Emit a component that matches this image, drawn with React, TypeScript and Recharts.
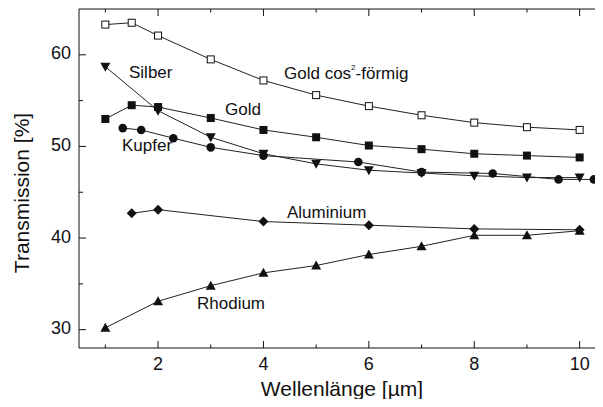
import React from 'react';
import { LineChart, Line, XAxis, YAxis } from 'recharts';

// wavelength [µm] and transmission [%] per coating
const goldCosX = [1, 1.5, 2, 3, 4, 5, 6, 7, 8, 9, 10];
const goldCosT = [63.3, 63.5, 62.1, 59.5, 57.2, 55.6, 54.4, 53.4, 52.6, 52.1, 51.8];

const goldX = [1, 1.5, 2, 3, 4, 5, 6, 7, 8, 9, 10];
const goldT = [53.0, 54.5, 54.3, 53.1, 51.8, 51.0, 50.1, 49.7, 49.2, 49.0, 48.8];

const silberX = [1, 2, 3, 4, 5, 6, 7, 8, 9, 10];
const silberT = [58.7, 53.9, 51.0, 49.2, 48.1, 47.4, 47.1, 46.8, 46.6, 46.6];

const kupferX = [1.33, 1.68, 2.29, 3, 4, 5.8, 7, 8.35, 9.6, 10.27];
const kupferT = [52.0, 51.8, 50.9, 49.9, 49.0, 48.3, 47.2, 47.05, 46.4, 46.4];

const aluX = [1.5, 2, 4, 6, 8, 10];
const aluT = [42.7, 43.1, 41.8, 41.4, 41.0, 40.9];

const rhodiumX = [1, 2, 3, 4, 5, 6, 7, 8, 9, 10];
const rhodiumT = [30.2, 33.1, 34.8, 36.2, 37.0, 38.2, 39.1, 40.3, 40.3, 40.8];

const xTicks = [1, 2, 3, 4, 5, 6, 7, 8, 9, 10];
const yTicks = [30, 35, 40, 45, 50, 55, 60];

const FONT = '"Liberation Sans", Arial, Helvetica, sans-serif';
const INK = '#111';

const toPoints = (xs: number[], ts: number[]) => xs.map((x, i) => ({ x, t: ts[i] }));

type MarkerKind = 'openSquare' | 'square' | 'circle' | 'down' | 'up' | 'diamond';

function marker(kind: MarkerKind, name: string) {
  return (props: any) => {
    const { cx, cy, index } = props;
    const key = `${name}-${index}`;
    if (cx == null || cy == null) return <g key={key} />;
    switch (kind) {
      case 'openSquare':
        return <rect key={key} x={cx - 3.5} y={cy - 3.5} width={7} height={7} fill="#fff" stroke={INK} strokeWidth={1} />;
      case 'square':
        return <rect key={key} x={cx - 4} y={cy - 4} width={8} height={8} fill={INK} />;
      case 'circle':
        return <circle key={key} cx={cx} cy={cy} r={4.3} fill={INK} />;
      case 'down':
        return <polygon key={key} points={`${cx - 5},${cy - 4} ${cx + 5},${cy - 4} ${cx},${cy + 5}`} fill={INK} />;
      case 'up':
        return <polygon key={key} points={`${cx - 5},${cy + 4} ${cx + 5},${cy + 4} ${cx},${cy - 5}`} fill={INK} />;
      default:
        return <polygon key={key} points={`${cx},${cy - 5} ${cx + 5},${cy} ${cx},${cy + 5} ${cx - 5},${cy}`} fill={INK} />;
    }
  };
}

// ticks point into the plot; only even wavelengths get a label
function BottomTick({ x, y, payload }: any) {
  const major = payload.value % 2 === 0;
  return (
    <g>
      <line x1={x} y1={y} x2={x} y2={y - (major ? 7 : 3.5)} stroke={INK} />
      {major && (
        <text x={x} y={y + 22} textAnchor="middle" fontSize={18} fontFamily={FONT} fill={INK}>
          {payload.value}
        </text>
      )}
    </g>
  );
}

function TopTick({ x, y, payload }: any) {
  const major = payload.value % 2 === 0;
  return <line x1={x} y1={y} x2={x} y2={y + (major ? 7 : 3.5)} stroke={INK} />;
}

function LeftTick({ x, y, payload }: any) {
  const major = payload.value % 10 === 0;
  return (
    <g>
      <line x1={x} y1={y} x2={x + (major ? 7 : 4)} y2={y} stroke={INK} />
      {major && (
        <text x={x - 8} y={y + 4.5} textAnchor="end" fontSize={18} fontFamily={FONT} fill={INK}>
          {payload.value}
        </text>
      )}
    </g>
  );
}

function RightTick({ x, y, payload }: any) {
  const major = payload.value % 10 === 0;
  return <line x1={x} y1={y} x2={x - (major ? 7 : 4)} y2={y} stroke={INK} />;
}

const series: Array<{ name: string; data: { x: number; t: number }[]; kind: MarkerKind }> = [
  { name: 'goldCos', data: toPoints(goldCosX, goldCosT), kind: 'openSquare' },
  { name: 'gold', data: toPoints(goldX, goldT), kind: 'square' },
  { name: 'silber', data: toPoints(silberX, silberT), kind: 'down' },
  { name: 'kupfer', data: toPoints(kupferX, kupferT), kind: 'circle' },
  { name: 'alu', data: toPoints(aluX, aluT), kind: 'diamond' },
  { name: 'rhodium', data: toPoints(rhodiumX, rhodiumT), kind: 'up' },
];

const annot = { fontSize: 17, fontFamily: FONT, fill: INK };

export default function App() {
  return (
    <div style={{ margin: -8, width: 603, height: 407, overflow: 'hidden', background: '#fff' }}>
      <LineChart width={607} height={407} margin={{ top: 8, right: 0, bottom: 0, left: 0 }}>
        <XAxis
          type="number"
          dataKey="x"
          domain={[0.5, 10.5]}
          ticks={xTicks}
          interval={0}
          allowDataOverflow
          height={59}
          tickSize={0}
          tickMargin={0}
          tickLine={false}
          axisLine={{ stroke: INK }}
          tick={<BottomTick />}
        />
        <XAxis
          xAxisId="top"
          orientation="top"
          type="number"
          dataKey="x"
          domain={[0.5, 10.5]}
          ticks={xTicks}
          interval={0}
          allowDataOverflow
          height={1}
          tickSize={0}
          tickMargin={0}
          tickLine={false}
          axisLine={{ stroke: INK }}
          tick={<TopTick />}
        />
        <YAxis
          type="number"
          domain={[28, 65]}
          ticks={yTicks}
          interval={0}
          allowDataOverflow
          width={79}
          tickSize={0}
          tickMargin={0}
          tickLine={false}
          axisLine={{ stroke: INK }}
          tick={<LeftTick />}
        />
        <YAxis
          yAxisId="right"
          orientation="right"
          type="number"
          domain={[28, 65]}
          ticks={yTicks}
          interval={0}
          allowDataOverflow
          width={1}
          tickSize={0}
          tickMargin={0}
          tickLine={false}
          axisLine={{ stroke: INK }}
          tick={<RightTick />}
        />
        {series.map((s) => (
          <Line
            key={s.name}
            data={s.data}
            dataKey="t"
            type="linear"
            stroke="#222"
            strokeWidth={1}
            dot={marker(s.kind, s.name)}
            activeDot={false}
            isAnimationActive={false}
          />
        ))}

        <text x={342} y={396} textAnchor="middle" fontSize={21} fontFamily={FONT} fill={INK}>
          Wellenlänge [µm]
        </text>
        <text
          x={29}
          y={193}
          transform="rotate(-90 29 193)"
          textAnchor="middle"
          fontSize={21}
          fontFamily={FONT}
          fill={INK}
        >
          Transmission [%]
        </text>

        <text x={129} y={78} {...annot}>Silber</text>
        <text x={284} y={79} {...annot}>
          Gold cos<tspan fontSize={8} dy={-9}>2</tspan>
          <tspan dy={9}>-förmig</tspan>
        </text>
        <text x={225} y={115} {...annot}>Gold</text>
        <text x={122} y={151} {...annot}>Kupfer</text>
        <text x={287} y={218} {...annot}>Aluminium</text>
        <text x={197} y={309} {...annot}>Rhodium</text>
      </LineChart>
    </div>
  );
}
